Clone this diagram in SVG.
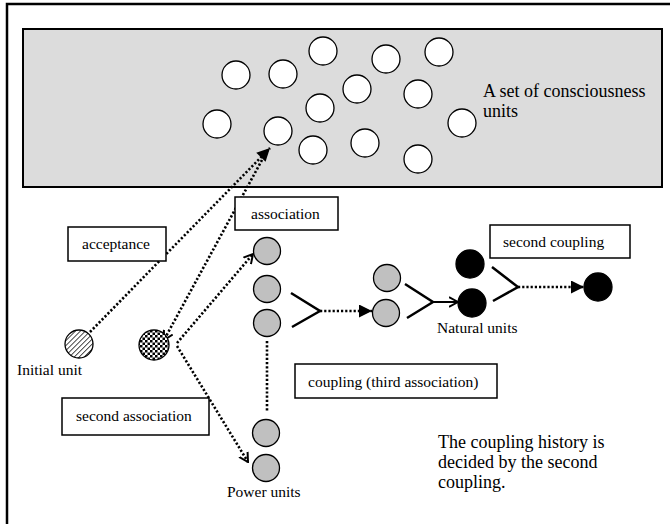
<svg xmlns="http://www.w3.org/2000/svg" width="670" height="524" viewBox="0 0 670 524">
  <style>
    .frame { fill: none; stroke: #000; stroke-width: 2.5; }
    .pool { fill: #dcdcdc; stroke: #000; stroke-width: 2; }
    .cu { fill: #fff; stroke: #000; stroke-width: 1.3; }
    .pu { fill: #c0c0c0; stroke: #000; stroke-width: 1.3; }
    .nu { fill: #000; stroke: #000; stroke-width: 1.3; }
    .box { fill: #fff; stroke: #000; stroke-width: 1.5; }
    .lbl { font-family: "Liberation Serif", "Times New Roman", serif; font-size: 15.5px; fill: #000; }
    .big { font-family: "Liberation Serif", "Times New Roman", serif; font-size: 18px; fill: #000; }
    .dot { fill: none; stroke: #000; stroke-width: 2.6; stroke-dasharray: 2.2 2; }
    .join { fill: none; stroke: #000; stroke-width: 2.5; }
    .solid { fill: none; stroke: #000; stroke-width: 2; }
  </style>
  <defs>
    <marker id="tri" viewBox="0 0 10 10" refX="10" refY="5" markerUnits="userSpaceOnUse" markerWidth="15" markerHeight="13" orient="auto">
      <path d="M0,0 L10,5 L0,10 z" fill="#000"/>
    </marker>
    <marker id="vee" viewBox="0 0 10 10" refX="9" refY="5" markerUnits="userSpaceOnUse" markerWidth="10" markerHeight="12" orient="auto">
      <path d="M0,0 L9,5 L0,10" fill="none" stroke="#000" stroke-width="2"/>
    </marker>
    <pattern id="hatch" width="3.5" height="3.5" patternUnits="userSpaceOnUse" patternTransform="rotate(45)">
      <rect width="3.5" height="3.5" fill="#fff"/>
      <line x1="0" y1="0" x2="0" y2="3.5" stroke="#000" stroke-width="1.4"/>
    </pattern>
    <pattern id="checker" width="5" height="5" patternUnits="userSpaceOnUse">
      <rect width="5" height="5" fill="#fff"/>
      <rect width="2.5" height="2.5" fill="#000"/>
      <rect x="2.5" y="2.5" width="2.5" height="2.5" fill="#000"/>
    </pattern>
  </defs>

  <!-- outer frame (open at right and bottom) -->
  <path class="frame" d="M7,524 V4 H670"/>

  <!-- pool of consciousness units -->
  <g id="consciousness-set">
    <rect class="pool" x="23" y="29" width="639" height="158"/>
    <circle class="cu" cx="236" cy="75" r="14"/>
    <circle class="cu" cx="283" cy="74" r="14"/>
    <circle class="cu" cx="323" cy="51" r="14"/>
    <circle class="cu" cx="386" cy="59" r="14"/>
    <circle class="cu" cx="439" cy="52" r="14"/>
    <circle class="cu" cx="357" cy="89" r="14"/>
    <circle class="cu" cx="418" cy="94" r="14"/>
    <circle class="cu" cx="320" cy="108" r="14"/>
    <circle class="cu" cx="217" cy="124" r="14"/>
    <circle class="cu" cx="278" cy="131" r="14"/>
    <circle class="cu" cx="462" cy="123" r="14"/>
    <circle class="cu" cx="313" cy="150" r="14"/>
    <circle class="cu" cx="365" cy="143" r="14"/>
    <circle class="cu" cx="418" cy="159" r="14"/>
    <text class="big" x="483" y="97">A set of consciousness</text>
    <text class="big" x="483" y="117">units</text>
  </g>

  <!-- connectors -->
  <g id="connectors">
    <path class="dot" d="M90,332 L270,148" marker-end="url(#tri)"/>
    <path class="dot" d="M262,160 L164,340" marker-end="url(#vee)"/>
    <path class="dot" d="M177,343 L253,254" marker-end="url(#vee)"/>
    <path class="dot" d="M177,346 L248,462" marker-end="url(#vee)"/>
    <path class="dot" d="M267,341 V412"/>
    <polyline class="join" points="291,293 320,311 292,327"/>
    <path class="dot" d="M320,311 H372" marker-end="url(#tri)"/>
    <polyline class="join" points="405,284 433,302 407,318"/>
    <path class="solid" d="M433,302 H458" marker-end="url(#vee)"/>
    <polyline class="join" points="492,267 518,287 493,301"/>
    <path class="dot" d="M518,287 H584" marker-end="url(#tri)"/>
  </g>

  <g id="initial-unit">
    <circle cx="79" cy="344" r="14" fill="url(#hatch)" stroke="#000" stroke-width="1.3"/>
    <text class="lbl" x="17" y="375">Initial unit</text>
  </g>

  <g id="second-unit">
    <circle cx="154" cy="345" r="15" fill="url(#checker)" stroke="#000" stroke-width="1.3"/>
  </g>

  <g id="power-units">
    <circle class="pu" cx="267" cy="251" r="13.5"/>
    <circle class="pu" cx="267" cy="289" r="13.5"/>
    <circle class="pu" cx="267" cy="323" r="13.5"/>
    <circle class="pu" cx="266" cy="433" r="13.5"/>
    <circle class="pu" cx="266" cy="468" r="13.5"/>
    <text class="lbl" x="227" y="497">Power units</text>
  </g>

  <g id="coupled-pair">
    <circle class="pu" cx="387" cy="278" r="13.5"/>
    <circle class="pu" cx="386" cy="313" r="13.5"/>
  </g>

  <g id="natural-units">
    <circle class="nu" cx="470" cy="264" r="14"/>
    <circle class="nu" cx="472" cy="303" r="14"/>
    <text class="lbl" x="437" y="333">Natural units</text>
  </g>

  <g id="result-unit">
    <circle class="nu" cx="598" cy="287" r="14"/>
  </g>

  <g id="label-acceptance">
    <rect class="box" x="68" y="227" width="98" height="34"/>
    <text class="lbl" x="82" y="249">acceptance</text>
  </g>

  <g id="label-association">
    <rect class="box" x="235" y="197" width="103" height="33"/>
    <text class="lbl" x="251" y="219">association</text>
  </g>

  <g id="label-second-coupling">
    <rect class="box" x="490" y="225" width="140" height="33"/>
    <text class="lbl" x="503" y="247">second coupling</text>
  </g>

  <g id="label-coupling">
    <rect class="box" x="295" y="364" width="202" height="34"/>
    <text class="lbl" x="308" y="387">coupling (third association)</text>
  </g>

  <g id="label-second-association">
    <rect class="box" x="62" y="398" width="147" height="37"/>
    <text class="lbl" x="76" y="421">second association</text>
  </g>

  <g id="note">
    <text class="big" x="438" y="448">The coupling history is</text>
    <text class="big" x="438" y="468">decided by the second</text>
    <text class="big" x="438" y="488">coupling.</text>
  </g>
</svg>
